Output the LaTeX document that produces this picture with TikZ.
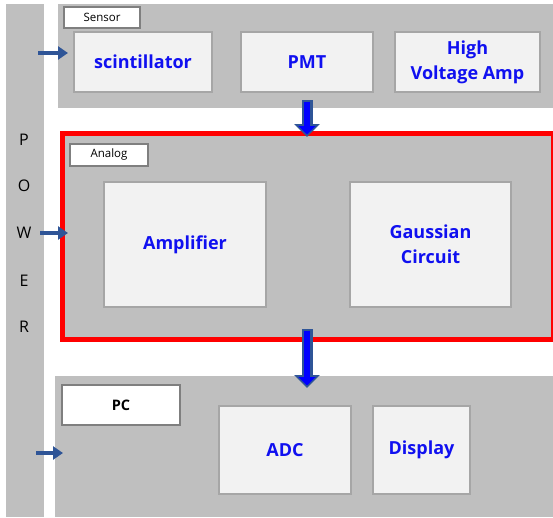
\documentclass[tikz,border=0pt]{standalone}
\usepackage{fontspec}
\setmainfont{Open Sans}
\usetikzlibrary{arrows.meta}
\definecolor{panelgray}{HTML}{BFBFBF}
\definecolor{boxfill}{HTML}{F2F2F2}
\definecolor{boxline}{HTML}{A6A6A6}
\definecolor{tagline}{HTML}{7F7F7F}
\definecolor{arrownavy}{HTML}{2F5597}
\definecolor{textblue}{HTML}{1010F0}
\begin{document}
\begin{tikzpicture}[x=1pt,y=-1pt]
	\tikzstyle{panel} =[fill=panelgray, inner sep=0pt, anchor=north west];
	\tikzstyle{block} =[draw=boxline, line width=2.5pt, fill=boxfill, text=textblue, font=\bfseries\fontsize{18}{25}\selectfont, align=center, inner sep=0pt];
	\tikzstyle{tag} =[draw=tagline, line width=2pt, fill=white, anchor=north west, inner sep=0pt, font=\fontsize{11.5}{12}\selectfont];
	\tikzstyle{feed} =[draw=arrownavy, line width=3.5pt, -{Triangle[width=13pt,length=10pt]}];
	\tikzstyle{flow} =[draw=arrownavy, line width=11pt, -{Triangle[width=25pt,length=13pt]}, postaction={draw=blue, line width=6.5pt, -{Triangle[width=17pt,length=8.5pt]}, shorten >=2.5pt, shorten <=1.5pt}];
	\useasboundingbox (0,0) rectangle (553,517);
	
	% panels
	\node[panel, minimum width=38pt, minimum height=513pt] (power) at (6,4) {};
	\node[panel, minimum width=495pt, minimum height=104pt] (sensor) at (58,4) {};
	\node[panel, draw=red, line width=5pt, minimum width=491pt, minimum height=206pt] (analog) at (59.5,130.5) {};
	\node[panel, minimum width=498pt, minimum height=141pt] (pc) at (55,376) {};
	
	\foreach \l/\y in {P/140,O/186,W/233,E/281,R/327}
		\node[font=\fontsize{16}{16}\selectfont] (power\l) at (24,\y) {\l};
	
	% tags
	\node[tag, minimum width=76pt, minimum height=21pt] (sensortag) at (63,6) {Sensor};
	\node[tag, minimum width=78pt, minimum height=22pt] (analogtag) at (69,143) {Analog};
	\node[tag, minimum width=118pt, minimum height=40pt, font=\bfseries\fontsize{14.5}{15}\selectfont] (pctag) at (61,384) {PC};
	
	% blocks
	\node[block, minimum width=138pt, minimum height=60pt] (scint) at (143,62) {scintillator};
	\node[block, minimum width=132pt, minimum height=60pt] (pmt) at (307,62) {PMT};
	\node[block, minimum width=145pt, minimum height=60pt] (hv) at (467.5,62) {High\\Voltage Amp};
	\node[block, minimum width=162pt, minimum height=125pt] (amp) at (185,244.5) {Amplifier};
	\node[block, minimum width=161pt, minimum height=125pt] (gauss) at (430.5,244.5) {Gaussian\\Circuit};
	\node[block, minimum width=132pt, minimum height=88pt] (adc) at (285,450) {ADC};
	\node[block, minimum width=97pt, minimum height=88pt] (disp) at (421.5,450) {Display};
	
	% connectors
	\coordinate (feedA) at (38,53);
	\coordinate (feedB) at (40,233);
	\coordinate (feedC) at (36,453);
	\coordinate (pmtin) at (68,53);
	\coordinate (analogin) at (68,233);
	\coordinate (pcin) at (63,453);
	\draw[feed] (feedA) -- (pmtin);
	\draw[feed] (feedB) -- (analogin);
	\draw[feed] (feedC) -- (pcin);
	
	\coordinate (pmtout) at (307,100);
	\coordinate (analogtop) at (307,137);
	\coordinate (analogout) at (307,329);
	\coordinate (pctop) at (307,388);
	\draw[flow] (pmtout) -- (analogtop);
	\draw[flow] (analogout) -- (pctop);
\end{tikzpicture}
\end{document}
